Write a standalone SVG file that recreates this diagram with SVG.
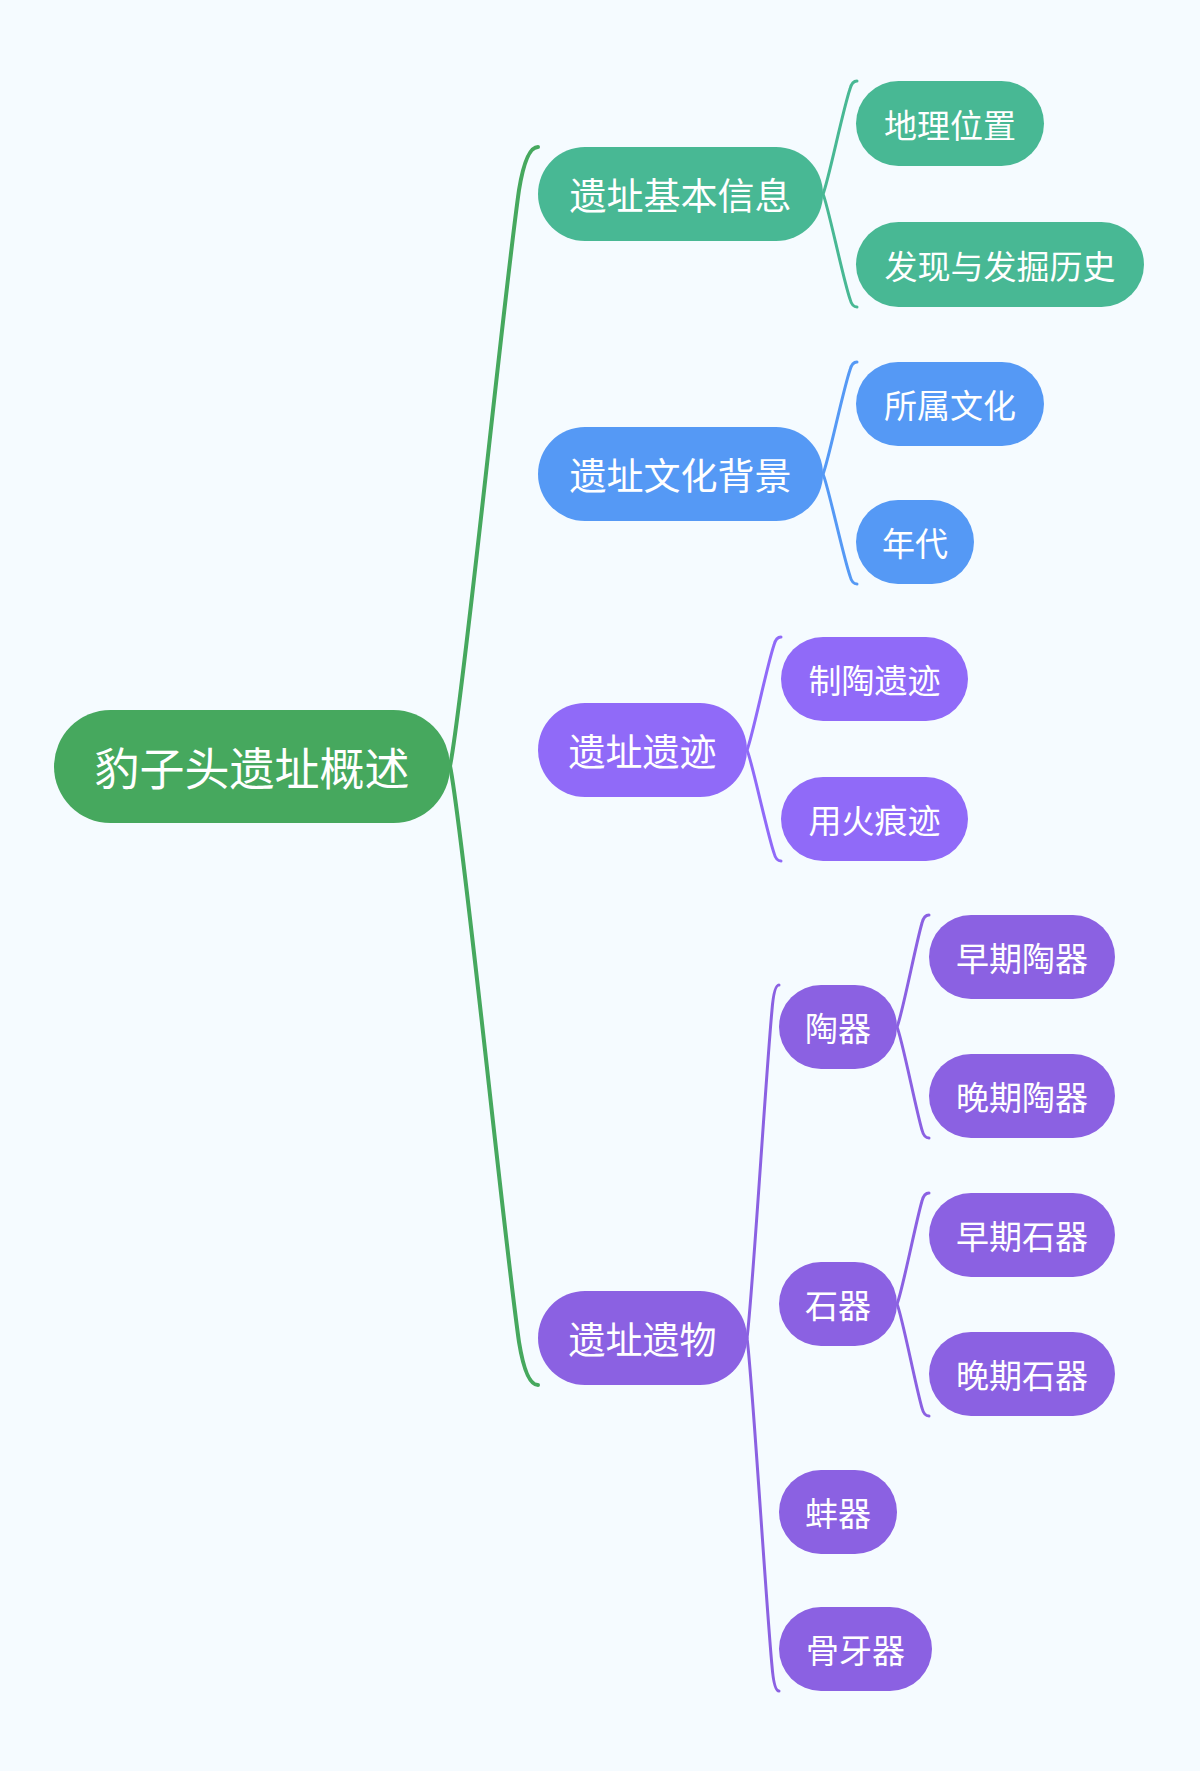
<svg xmlns="http://www.w3.org/2000/svg" width="1200" height="1771" viewBox="0 0 1200 1771">
<style>
text{font-family:"Noto Sans CJK SC","Noto Sans",sans-serif;fill:#ffffff;text-anchor:middle;dominant-baseline:central}
.t0{font-size:45px}.t1{font-size:37px}.t2{font-size:33px}
.c{fill:none;stroke-linecap:round}
.green{fill:#46A85E}.teal{fill:#48B894}.blue{fill:#5599F5}.vio{fill:#906AF8}.pur{fill:#8B61E2}
</style>
<rect x="0" y="0" width="1200" height="1771" fill="#F5FBFF"/>
<g id="connectors">
<path class="c" stroke="#46A85E" stroke-width="4" d="M450,766 C463,704 503,302 519,190 Q526,147 538,147"/>
<path class="c" stroke="#46A85E" stroke-width="4" d="M450,766 C463,828 503,1230 519,1342 Q526,1385 538,1385"/>
<path class="c" stroke="#48B894" stroke-width="3" d="M823,194 C828,183 843,109 850,89 Q852,81 857,81"/>
<path class="c" stroke="#48B894" stroke-width="3" d="M823,194 C828,205 843,279 850,299 Q852,307 857,307"/>
<path class="c" stroke="#5599F5" stroke-width="3" d="M823,474 C828,463 843,390 850,370 Q852,362 857,362"/>
<path class="c" stroke="#5599F5" stroke-width="3" d="M823,474 C828,485 843,556 850,576 Q852,584 857,584"/>
<path class="c" stroke="#906AF8" stroke-width="3" d="M747,750 C752,739 767,665 774,645 Q776,637 781,637"/>
<path class="c" stroke="#906AF8" stroke-width="3" d="M747,750 C752,761 767,833 774,853 Q776,861 781,861"/>
<path class="c" stroke="#8B61E2" stroke-width="3" d="M747,1338 C752,1303 766,1073 772,1010 Q774,985 779,985"/>
<path class="c" stroke="#8B61E2" stroke-width="3" d="M747,1338 C752,1373 766,1603 772,1666 Q774,1691 779,1691"/>
<path class="c" stroke="#8B61E2" stroke-width="3" d="M897,1027 C902,1016 916,943 922,923 Q924,915 929,915"/>
<path class="c" stroke="#8B61E2" stroke-width="3" d="M897,1027 C902,1038 916,1110 922,1130 Q924,1138 929,1138"/>
<path class="c" stroke="#8B61E2" stroke-width="3" d="M897,1304 C902,1293 916,1221 922,1201 Q924,1193 929,1193"/>
<path class="c" stroke="#8B61E2" stroke-width="3" d="M897,1304 C902,1315 916,1388 922,1408 Q924,1416 929,1416"/>
</g>
<g id="root"><rect class="green" x="54" y="710" width="396" height="113" rx="56.5"/><text class="t0" x="252" y="766">豹子头遗址概述</text></g>
<g id="n-basic"><rect class="teal" x="538" y="147" width="285" height="94" rx="47"/><text class="t1" x="680.5" y="194">遗址基本信息</text></g>
<g id="n-location"><rect class="teal" x="856" y="81" width="188" height="85" rx="42.5"/><text class="t2" x="950" y="123.5">地理位置</text></g>
<g id="n-history"><rect class="teal" x="856" y="222" width="288" height="85" rx="42.5"/><text class="t2" x="1000" y="264.5">发现与发掘历史</text></g>
<g id="n-culture-bg"><rect class="blue" x="538" y="427" width="285" height="94" rx="47"/><text class="t1" x="680.5" y="474">遗址文化背景</text></g>
<g id="n-culture"><rect class="blue" x="856" y="362" width="188" height="84" rx="42"/><text class="t2" x="950" y="404">所属文化</text></g>
<g id="n-age"><rect class="blue" x="856" y="500" width="118" height="84" rx="42"/><text class="t2" x="915" y="542">年代</text></g>
<g id="n-remains"><rect class="vio" x="538" y="703" width="209" height="94" rx="47"/><text class="t1" x="642.5" y="750">遗址遗迹</text></g>
<g id="n-pottery-site"><rect class="vio" x="781" y="637" width="187" height="84" rx="42"/><text class="t2" x="874.5" y="679">制陶遗迹</text></g>
<g id="n-fire"><rect class="vio" x="781" y="777" width="187" height="84" rx="42"/><text class="t2" x="874.5" y="819">用火痕迹</text></g>
<g id="n-relics"><rect class="pur" x="538" y="1291" width="209" height="94" rx="47"/><text class="t1" x="642.5" y="1338">遗址遗物</text></g>
<g id="n-pottery"><rect class="pur" x="779" y="985" width="118" height="84" rx="42"/><text class="t2" x="838" y="1027">陶器</text></g>
<g id="n-early-pottery"><rect class="pur" x="929" y="915" width="186" height="84" rx="42"/><text class="t2" x="1022" y="957">早期陶器</text></g>
<g id="n-late-pottery"><rect class="pur" x="929" y="1054" width="186" height="84" rx="42"/><text class="t2" x="1022" y="1096">晚期陶器</text></g>
<g id="n-stone"><rect class="pur" x="779" y="1262" width="118" height="84" rx="42"/><text class="t2" x="838" y="1304">石器</text></g>
<g id="n-early-stone"><rect class="pur" x="929" y="1193" width="186" height="84" rx="42"/><text class="t2" x="1022" y="1235">早期石器</text></g>
<g id="n-late-stone"><rect class="pur" x="929" y="1332" width="186" height="84" rx="42"/><text class="t2" x="1022" y="1374">晚期石器</text></g>
<g id="n-shell"><rect class="pur" x="779" y="1470" width="118" height="84" rx="42"/><text class="t2" x="838" y="1512">蚌器</text></g>
<g id="n-bone"><rect class="pur" x="779" y="1607" width="153" height="84" rx="42"/><text class="t2" x="855.5" y="1649">骨牙器</text></g>
</svg>
